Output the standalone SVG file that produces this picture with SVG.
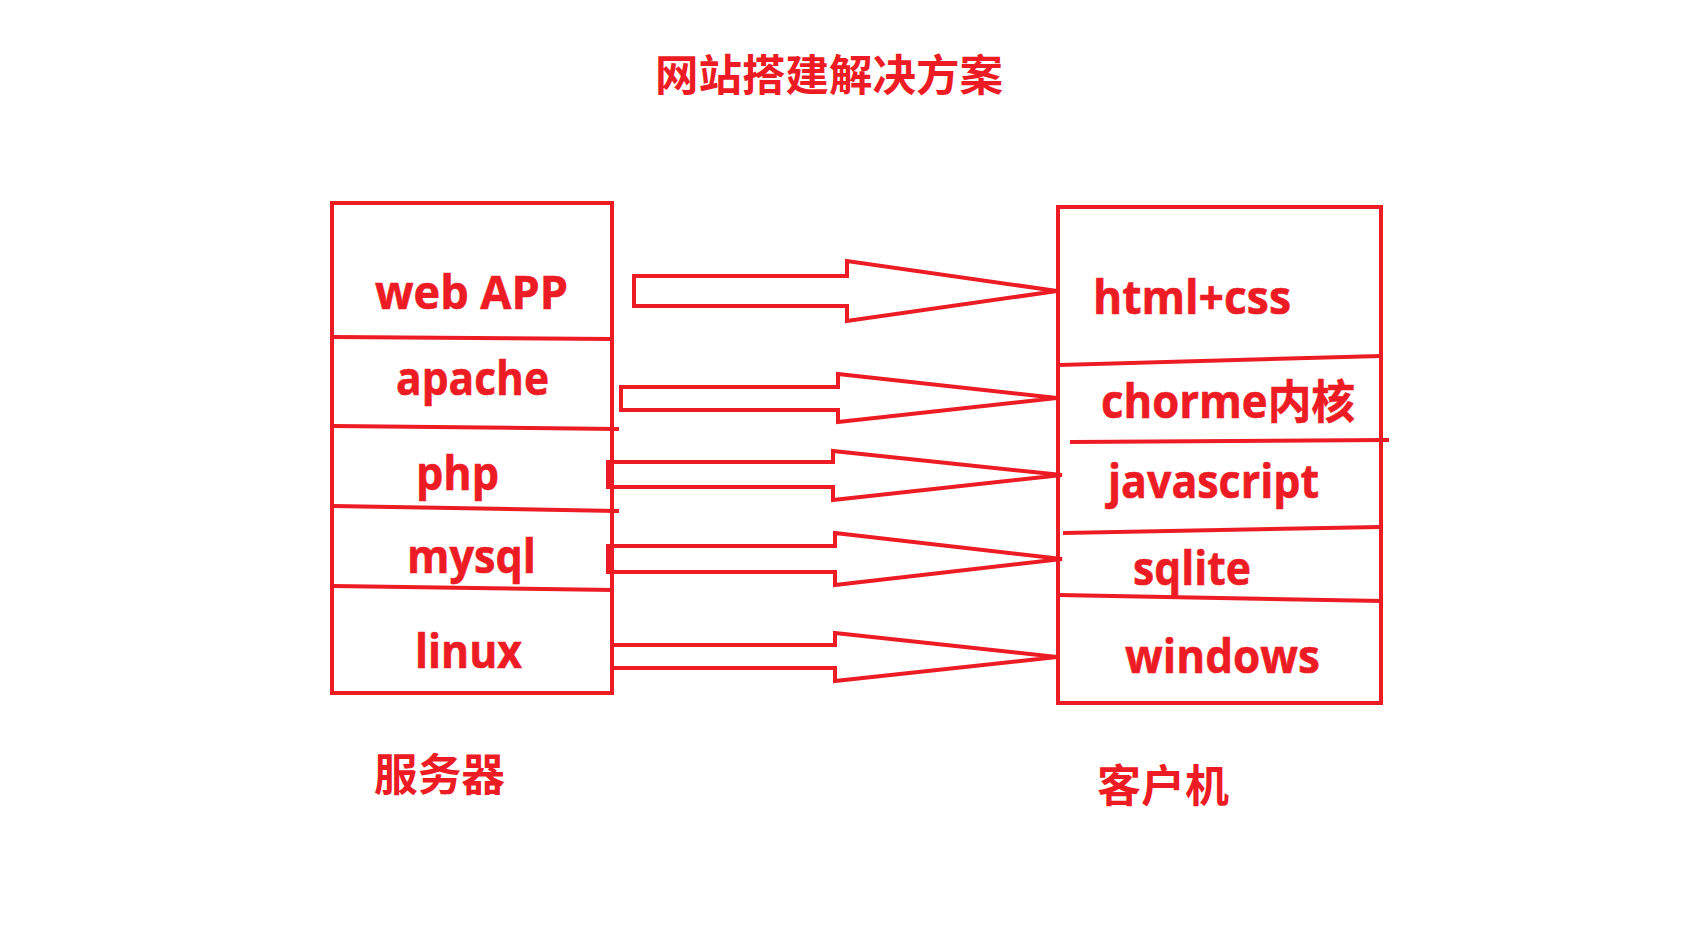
<svg xmlns="http://www.w3.org/2000/svg" width="1686" height="952" viewBox="0 0 1686 952">
<style>
.ln{fill:none;stroke:#ed1c24;stroke-width:4;stroke-linejoin:miter;stroke-linecap:square}
.t{fill:#ed1c24;stroke:#ed1c24;stroke-width:0.6;font-family:"Open Sans","Noto Sans CJK SC",sans-serif;font-weight:bold;font-size:46px}
.c{fill:#ed1c24;font-family:"Noto Sans CJK SC",sans-serif;font-weight:bold}
</style>
<rect width="1686" height="952" fill="#ffffff"/>
<g id="title"><text class="c" x="829" y="91" font-size="43" text-anchor="middle" textLength="348" lengthAdjust="spacingAndGlyphs">网站搭建解决方案</text></g>
<g id="server">
<rect class="ln" x="332" y="203" width="280" height="490"/>
<path class="ln" d="M334 337 L612 339 M334 426 L617 429 M334 506 L617 511 M334 586 L612 590"/>
<text class="t" x="375" y="309" textLength="193" lengthAdjust="spacingAndGlyphs">web APP</text>
<text class="t" x="396" y="395" textLength="153" lengthAdjust="spacingAndGlyphs">apache</text>
<text class="t" x="416" y="490" textLength="83" lengthAdjust="spacingAndGlyphs">php</text>
<text class="t" x="407" y="573" textLength="129" lengthAdjust="spacingAndGlyphs">mysql</text>
<text class="t" x="415" y="668" textLength="107" lengthAdjust="spacingAndGlyphs">linux</text>
</g>
<g id="client">
<rect class="ln" x="1058" y="207" width="323" height="496"/>
<path class="ln" d="M1060 365 L1381 356 M1072 442 L1387 440 M1065 533 L1381 527 M1060 595 L1381 601"/>
<text class="t" x="1093" y="314" textLength="198" lengthAdjust="spacingAndGlyphs">html+css</text>
<text class="t" x="1101" y="418" textLength="254" lengthAdjust="spacingAndGlyphs">chorme内核</text>
<text class="t" x="1108" y="498" textLength="211" lengthAdjust="spacingAndGlyphs">javascript</text>
<text class="t" x="1133" y="585" textLength="118" lengthAdjust="spacingAndGlyphs">sqlite</text>
<text class="t" x="1125" y="673" textLength="195" lengthAdjust="spacingAndGlyphs">windows</text>
</g>
<g id="connectors">
<path class="ln" d="M634 276 L847 276 L847 261 L1057 291 L847 321 L847 306 L634 306 Z"/>
<path class="ln" d="M621 387 L838 387 L838 374 L1057 398 L838 422 L838 410 L621 410 Z"/>
<path class="ln" d="M608 462 L833 462 L833 451 L1062 475 L833 500 L833 487 L608 487 Z"/>
<path class="ln" d="M608 546 L835 546 L835 533 L1062 559 L835 585 L835 572 L608 572 Z"/>
<path class="ln" d="M614 645 L835 645 L835 633 L1057 657 L835 681 L835 668 L614 668"/>
</g>
<g id="labels">
<text class="c" x="374" y="791" font-size="44" textLength="131" lengthAdjust="spacingAndGlyphs">服务器</text>
<text class="c" x="1097" y="802" font-size="44" textLength="132" lengthAdjust="spacingAndGlyphs">客户机</text>
</g>
</svg>
